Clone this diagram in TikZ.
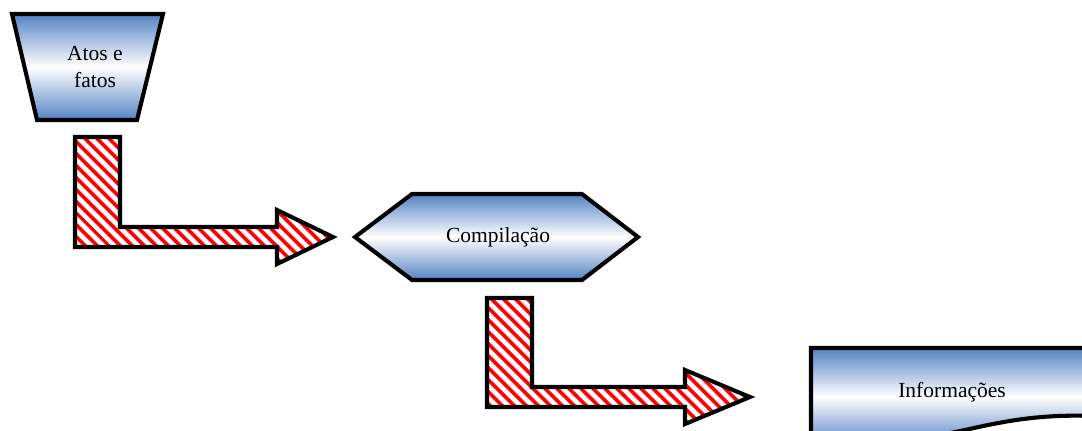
\documentclass[tikz,border=0pt]{standalone}
\usepackage{fontspec}
\setmainfont{Liberation Serif}
\usetikzlibrary{patterns.meta}
\definecolor{boxblue}{RGB}{84,130,196}
\tikzset{
  flowbox/.style={draw=black, line width=2.9pt, top color=boxblue, bottom color=boxblue, middle color=white},
  blockarrow/.style={draw=black, line width=2.9pt, preaction={fill=white},
    pattern={Lines[angle=-45, distance=6.5pt, line width=2.8pt]}, pattern color=red},
  flowtext/.style={align=center, font=\fontsize{15.3}{18.5}\selectfont}
}
\begin{document}
\begin{tikzpicture}[x=0.025cm, y=-0.025cm]
% Page frame
\useasboundingbox (0,0) rectangle (1082,430);
\clip (0,0) rectangle (1082,430);
\fill[white] (0,0) rectangle (1082,430);

% Shapes
\draw[flowbox] (12,14) -- (163,14) -- (137,120) -- (37,120) -- cycle;
\node[flowtext] (atos) at (95,67) {Atos e\\fatos};

\draw[flowbox] (355,237) -- (412,194) -- (582,194) -- (638,237) -- (582,280) -- (412,280) -- cycle;
\node[flowtext] (compilacao) at (498,237) {Compilação};

\draw[flowbox] (811,348) -- (1094,348) -- (1094,416)
  .. controls (1040,414) and (1005,421) .. (965,430)
  .. controls (910,442) and (860,446) .. (811,440) -- cycle;
\node[flowtext] (informacoes) at (952,392) {Informações};

% Bent arrows
\draw[blockarrow] (75,137) -- (120,137) -- (120,227) -- (277,227) -- (277,210) -- (333,237)
  -- (277,264) -- (277,247) -- (75,247) -- cycle;
\draw[blockarrow] (487,298) -- (532,298) -- (532,387) -- (685,387) -- (685,370) -- (750,397)
  -- (685,424) -- (685,407) -- (487,407) -- cycle;
\end{tikzpicture}
\end{document}
